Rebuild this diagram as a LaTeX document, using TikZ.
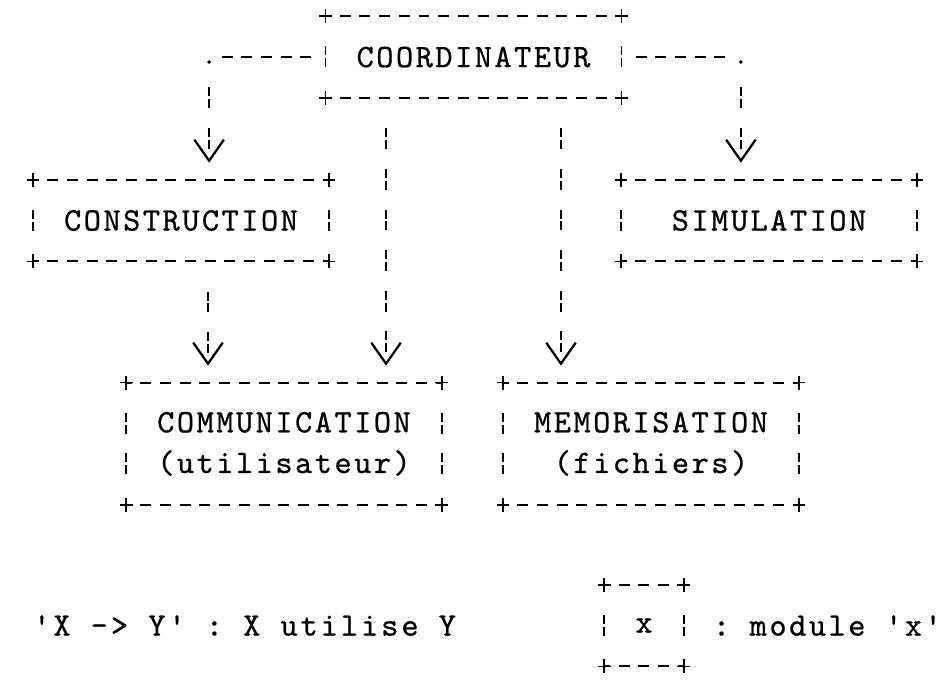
\documentclass[tikz,border=0pt]{standalone}
\usepackage{fontspec}
\setmonofont[FakeBold=0.7, LetterSpace=7.6]{lmmono10-regular.otf}
\usetikzlibrary{arrows.meta, positioning, calc}

% bordure d'un module, facon machine a ecrire
\newcommand{\cadre}[1]{%
	\draw[tiret] (#1.north west) -- (#1.north east);
	\draw[tiret] (#1.south west) -- (#1.south east);
	\draw[barre, shorten <=14.45pt, shorten >=14.45pt] (#1.north west) -- (#1.south west);
	\draw[barre, shorten <=14.45pt, shorten >=14.45pt] (#1.north east) -- (#1.south east);
	\foreach \coin in {north west, north east, south west, south east}
	\draw[croix] ([xshift=-4.5pt]#1.\coin) -- ([xshift=4.5pt]#1.\coin)
	([yshift=-5pt]#1.\coin) -- ([yshift=5pt]#1.\coin);
}

\begin{document}
\begin{tikzpicture}[
		x=0.025cm, y=-0.025cm,
		font=\ttfamily\fontsize{23.3pt}{28.9pt}\selectfont,
		module/.style={inner sep=0pt, align=center, minimum width=210pt, minimum height=57.8pt},
		tiret/.style={line width=1.5pt, dash pattern=on 7.8pt off 6.2pt, dash phase=3.9pt},
		trait/.style={line width=1.5pt, dash pattern=on 7.8pt off 6.2pt, dash phase=10.9pt,
			shorten <=7pt, shorten >=7pt},
		barre/.style={line width=1.3pt, dash pattern=on 6.4pt off 2pt on 6.4pt off 14.1pt, dash phase=21.85pt},
		fleche/.style={barre, shorten <=14.45pt, shorten >=12pt,
			-{Straight Barb[length=15pt, width=21pt, line width=1.6pt]}},
		croix/.style={line width=1.3pt}
		]
		
		\useasboundingbox (0,0) rectangle (944,680);
		
		% Modules
		\node[module] (coord) at (473.5,57.1) {COORDINATEUR};
		\node[module] (constr) at (181,220.5) {CONSTRUCTION};
		\node[module] (simul) at (769,220.5) {SIMULATION};
		\node[module, minimum width=224pt, minimum height=86.7pt] (comm) at (284,443.8)
		{COMMUNICATION\\(utilisateur)};
		\node[module, minimum height=86.7pt] (memo) at (651,443.8)
		{MEMORISATION\\(fichiers)};
		
		\cadre{coord}
		\cadre{constr}
		\cadre{simul}
		\cadre{comm}
		\cadre{memo}
		
		% Coins des liens lateraux
		\coordinate (g) at ([xshift=20pt]constr.north |- coord.west);
		\coordinate (d) at ([xshift=-20pt]simul.north |- coord.east);
		\fill ([yshift=-3.5pt]g) circle (1.4pt);
		\fill ([yshift=-3.5pt]d) circle (1.4pt);
		
		% Liens 'X -> Y'
		\draw[trait] (coord.west) -- (g);
		\draw[fleche] (g) -- (g |- constr.north);
		\draw[trait] (coord.east) -- (d);
		\draw[fleche] (d) -- (d |- simul.north);
		\draw[fleche] ([xshift=-62.2pt]coord.south) -- ([xshift=-62.2pt]coord.south |- comm.north);
		\draw[fleche] ([xshift=62.2pt]coord.south) -- ([xshift=62.2pt]coord.south |- memo.north);
		\draw[fleche] ([xshift=19.2pt]constr.south) -- ([xshift=19.2pt]constr.south |- comm.north);
		
		% Legende
		\node[anchor=west, inner sep=0pt] (leglien) at (33,625.5)
		{\addfontfeatures{LetterSpace=9}'X -> Y' : X utilise Y};
		\node[module, minimum width=56pt] (cle) at (644,625.5) {x};
		\cadre{cle}
		\node[anchor=east, inner sep=0pt] (legmod) at (942,625.5) {: module 'x'};
		
	\end{tikzpicture}
\end{document}
